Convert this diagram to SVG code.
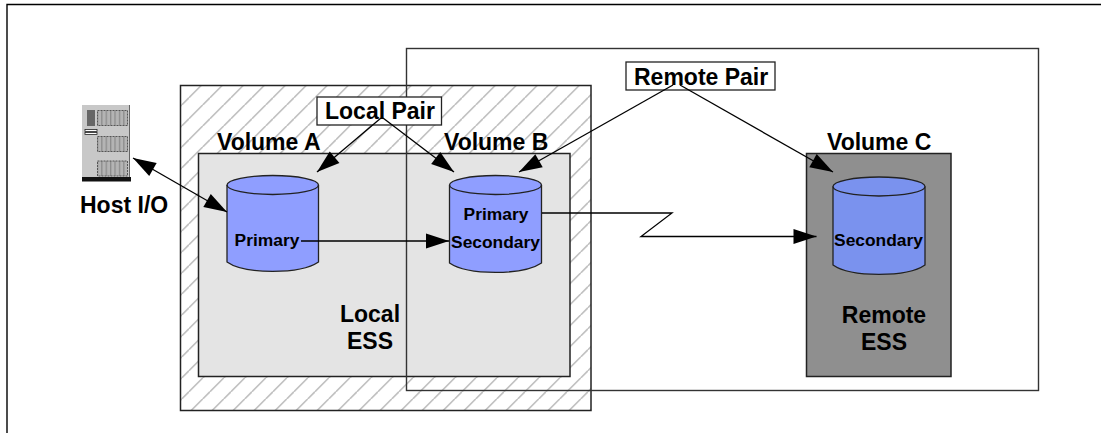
<svg xmlns="http://www.w3.org/2000/svg" width="1101" height="433" viewBox="0 0 1101 433">
<style>
text{font-family:"Liberation Sans",Arial,sans-serif;font-weight:bold;fill:#000}
.b{font-size:23px}
.s{font-size:17.4px;text-anchor:middle}
.m{text-anchor:middle}
.box{stroke:#222;stroke-width:1.5}
.cyl{fill:#8f9eff;stroke:#222;stroke-width:1.3}
.cylc{fill:#7a92ee;stroke:#222;stroke-width:1.3}
.lid{fill:none;stroke:#222;stroke-width:1.3}
.con{fill:none;stroke:#000;stroke-width:1.3}
.vent{fill:url(#stripes);stroke:#555;stroke-width:1;stroke-dasharray:2 1}
</style>
<defs>
<pattern id="hatch" patternUnits="userSpaceOnUse" width="21" height="21">
<path d="M13.7 0L0 13.7M21 13.7L13.7 21" stroke="#c2c2c2" stroke-width="1.7" fill="none"/>
</pattern>
<pattern id="stripes" patternUnits="userSpaceOnUse" width="4.400" height="4">
<rect width="4.400" height="4" fill="#b4b4b4"/>
<rect width="1.300" height="4" fill="#8c8c8c"/>
</pattern>
<marker id="end" markerUnits="userSpaceOnUse" markerWidth="24" markerHeight="16" refX="23" refY="7.500" orient="auto" overflow="visible">
<path d="M0 0L23 7.500L0 15Z" fill="#000"/>
</marker>
<marker id="start" markerUnits="userSpaceOnUse" markerWidth="24" markerHeight="16" refX="0" refY="7.500" orient="auto" overflow="visible">
<path d="M23 0L0 7.500L23 15Z" fill="#000"/>
</marker>
</defs>
<rect width="1101" height="433" fill="#fff"/>
<path id="frame" d="M7 433V4.500H1101" fill="none" stroke="#000" stroke-width="1.4"/>
<g id="local-ess">
<rect x="181" y="86" width="410" height="324" fill="url(#hatch)"/>
<rect class="box" x="180.500" y="85.500" width="410.500" height="325" fill="none"/>
<rect class="box" x="198.500" y="153.500" width="371.500" height="223" fill="#e4e4e4"/>
<text class="b m" x="370" y="322">Local</text>
<text class="b m" x="370" y="349">ESS</text>
</g>
<g id="remote-ess">
<rect x="406.500" y="48.500" width="632" height="342" fill="none" stroke="#333" stroke-width="1.4"/>
<rect class="box" x="806.500" y="153.500" width="144.500" height="223" fill="#8f8f8f"/>
<text class="b m" x="884" y="323">Remote</text>
<text class="b m" x="884" y="350">ESS</text>
</g>
<g id="host">
<rect x="82" y="105" width="47" height="72" fill="#c8c8c8"/>
<line x1="129.500" y1="105" x2="129.500" y2="177" stroke="#666" stroke-width="1"/>
<rect x="82" y="177" width="49" height="4.500" fill="#111"/>
<rect x="87" y="110" width="8" height="16" fill="#666"/>
<rect x="85" y="129.500" width="12" height="2" fill="#fff" stroke="#222" stroke-width="0.800"/>
<rect x="85" y="132.500" width="12" height="2" fill="#fff" stroke="#222" stroke-width="0.800"/>
<rect class="vent" x="97.500" y="110.500" width="30" height="15"/>
<rect class="vent" x="97.500" y="136.500" width="30" height="15"/>
<rect class="vent" x="97.500" y="161" width="30" height="15"/>
<text class="b" x="80" y="213">Host I/O</text>
</g>
<g id="volume-a">
<text class="b" x="217" y="150">Volume A</text>
<path class="cyl" d="M227 185A45.750 9.500 0 0 1 318.500 185V262C300 274.500 245 274.500 227 262Z"/>
<path class="lid" d="M227 185A45.750 9.500 0 0 0 318.500 185"/>
</g>
<g id="volume-b">
<text class="b" x="444" y="150">Volume B</text>
<path class="cyl" d="M449.500 185A46 9.500 0 0 1 541.500 185V263C523 275.500 468 275.500 449.500 263Z"/>
<path class="lid" d="M449.500 185A46 9.500 0 0 0 541.500 185"/>
</g>
<g id="volume-c">
<text class="b" x="827" y="150">Volume C</text>
<path class="cylc" d="M833 186.500A46 9.500 0 0 1 925 186.500V265C907 277.500 851 277.500 833 265Z"/>
<path class="lid" d="M833 186.500A46 9.500 0 0 0 925 186.500"/>
</g>
<g id="local-pair">
<rect x="317" y="97" width="124.500" height="28" fill="#fff" stroke="#222" stroke-width="1.3"/>
<text class="b" x="325" y="119">Local Pair</text>
</g>
<g id="remote-pair">
<rect x="626" y="62" width="149" height="28" fill="#fff" stroke="#222" stroke-width="1.3"/>
<text class="b" x="634" y="85">Remote Pair</text>
</g>
<g id="connectors">
<line class="con" x1="133" y1="158" x2="227" y2="212" marker-start="url(#start)" marker-end="url(#end)"/>
<line class="con" x1="381" y1="118" x2="317" y2="172" marker-end="url(#end)"/>
<line class="con" x1="383" y1="118" x2="454" y2="172" marker-end="url(#end)"/>
<line class="con" x1="673" y1="85" x2="519" y2="172" marker-end="url(#end)"/>
<line class="con" x1="680" y1="85" x2="833" y2="172" marker-end="url(#end)"/>
<line class="con" x1="301" y1="241" x2="449" y2="241" marker-end="url(#end)"/>
<polyline class="con" points="542,213 672,213 641,236.500 816.500,236.500" marker-end="url(#end)"/>
</g>
<g id="cylinder-labels">
<text class="s" x="267" y="246">Primary</text>
<text class="s" x="496" y="220">Primary</text>
<text class="s" x="495.500" y="248">Secondary</text>
<text class="s" x="878.500" y="246">Secondary</text>
</g>
</svg>
